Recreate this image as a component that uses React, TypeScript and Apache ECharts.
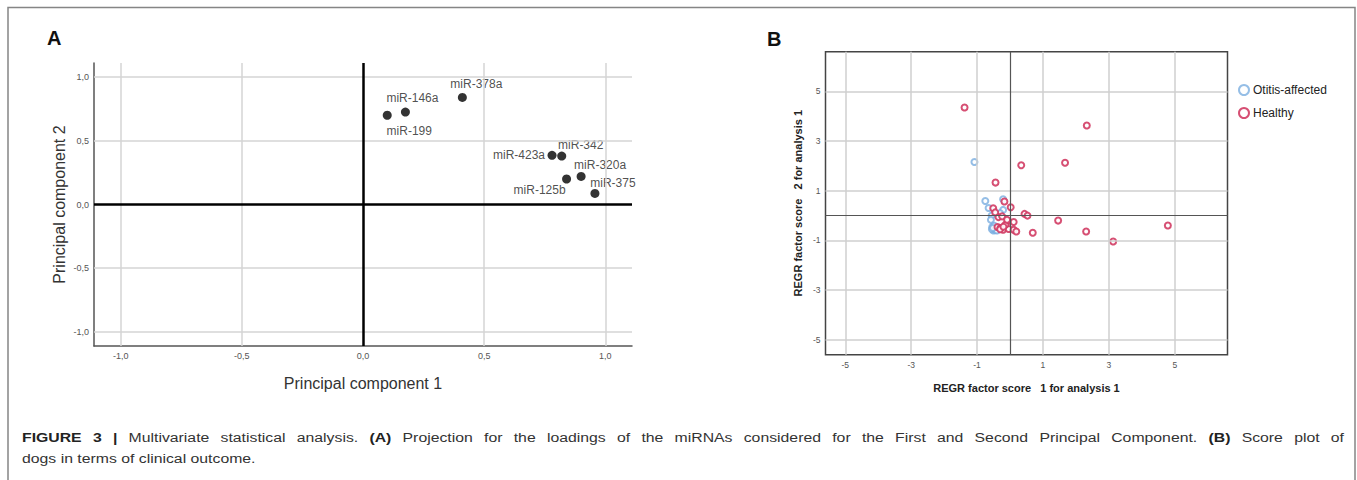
import React, { useEffect, useRef } from "react";
import * as echarts from "echarts";

// ---------- Panel A: PCA loadings ----------
const miRNAs = ["miR-199", "miR-146a", "miR-378a", "miR-423a", "miR-342", "miR-320a", "miR-125b", "miR-375"];
const pc1Loadings = [0.10, 0.175, 0.41, 0.78, 0.82, 0.90, 0.84, 0.957];
const pc2Loadings = [0.70, 0.725, 0.84, 0.386, 0.38, 0.22, 0.20, 0.087];
const aTickValues = [-1, -0.5, 0, 0.5, 1];
const aGridValues = [-1, -0.5, 0.5, 1];

// ---------- Panel B: factor scores ----------
const otitisX = [-1.08, -0.75, -0.21, -0.65, -0.21, -0.56, -0.58, -0.54, -0.50, -0.55, -0.45, -0.48, -0.40, -0.52, -0.30];
const otitisY = [2.16, 0.59, 0.66, 0.31, 0.23, 0.00, -0.17, -0.46, -0.60, -0.55, -0.57, -0.41, -0.60, -0.50, 0.10];
const healthyX = [-1.38, 2.33, 0.34, 1.67, -0.44, -0.17, 0.02, -0.51, 0.44, 0.53, 1.46, -0.06, 0.11, -0.35, -0.45, -0.24, -0.38, -0.21, -0.04, 0.11, 0.19, 0.69, 2.31, 3.13, 4.79, -0.29, -0.14, -0.09, -0.30, -0.20];
const healthyY = [4.35, 3.63, 2.03, 2.13, 1.33, 0.57, 0.34, 0.30, 0.07, 0.00, -0.20, -0.22, -0.26, -0.06, 0.13, -0.03, -0.46, -0.57, -0.54, -0.57, -0.64, -0.69, -0.64, -1.04, -0.40, -0.50, -0.37, -0.17, -0.55, -0.45];
const bTickValues = [-5, -3, -1, 1, 3, 5];
const groupNames = ["Otitis-affected", "Healthy"];

// ---------- Caption ([text, bold]) ----------
const captionLine1: [string, boolean][] = [
  ["FIGURE 3 |", true],
  ["Multivariate statistical analysis.", false],
  ["(A)", true],
  ["Projection for the loadings of the miRNAs considered for the First and Second Principal Component.", false],
  ["(B)", true],
  ["Score plot of", false],
];
const captionLine2: [string, boolean][] = [["dogs in terms of clinical outcome.", false]];

// label placement (offset of label centre from point, in px)
const labelOffsets: Record<string, [number, number]> = {
  "miR-199": [22, 16],
  "miR-146a": [7, -14],
  "miR-378a": [14, -13],
  "miR-423a": [-33, 0],
  "miR-342": [19, -11],
  "miR-320a": [19, -11],
  "miR-125b": [-27, 11],
  "miR-375": [18, -10],
};

const FONT = "'Liberation Sans', Arial, Helvetica, sans-serif";
const CAP_SIZE = 13.5;
const CAP_SCALE = 1.17;

function buildCaptionLine(segments: [string, boolean][], x0: number, y: number, justifyWidth: number | null) {
  const ctx = document.createElement("canvas").getContext("2d")!;
  const words: { t: string; b: boolean; w: number }[] = [];
  segments.forEach(([txt, b]) => {
    txt.split(" ").forEach((t) => {
      ctx.font = `${b ? "bold " : ""}${CAP_SIZE}px 'Liberation Sans', Arial, sans-serif`;
      words.push({ t, b, w: ctx.measureText(t).width });
    });
  });
  ctx.font = `${CAP_SIZE}px 'Liberation Sans', Arial, sans-serif`;
  const space = ctx.measureText(" ").width;
  const total = words.reduce((s, w) => s + w.w, 0);
  const gaps = words.length - 1;
  const gap = justifyWidth != null && gaps > 0 ? Math.max(space, (justifyWidth / CAP_SCALE - total) / gaps) : space;
  let cx = 0;
  const children = words.map((w) => {
    const el = {
      type: "text",
      x: cx,
      y: 0,
      style: {
        text: w.t,
        fontSize: CAP_SIZE,
        fontWeight: w.b ? "bold" : "normal",
        fontFamily: FONT,
        fill: w.b ? "#222" : "#333",
        verticalAlign: "middle",
      },
    };
    cx += w.w + gap;
    return el;
  });
  return { type: "group", x: x0, y, scaleX: CAP_SCALE, children };
}

export default function App() {
  const ref = useRef<HTMLDivElement>(null);

  useEffect(() => {
    if (!ref.current) return;
    const chart = echarts.init(ref.current, undefined, { renderer: "svg" });

    const fmtA = (v: number) => v.toFixed(1).replace(".", ",");

    const pointsA = miRNAs.map((n, i) => ({
      name: n,
      value: [pc1Loadings[i], pc2Loadings[i]],
      label: { offset: labelOffsets[n] },
    }));

    const gridLineA = { color: "#d4d4d4", width: 1.5, type: "solid" };
    const zeroLineA = { color: "#000", width: 2.5, type: "solid" };
    const gridLineB = { color: "#cfcfcf", width: 1.5, type: "solid" };
    const zeroLineB = { color: "#555", width: 1.2, type: "solid" };

    const option: any = {
      animation: false,
      textStyle: { fontFamily: FONT },
      grid: [
        { left: 94, top: 63, width: 538, height: 283 },
        {
          left: 825.5,
          top: 51.7,
          width: 402,
          height: 303,
          show: true,
          borderColor: "#444",
          borderWidth: 1.5,
          backgroundColor: "transparent",
        },
      ],
      xAxis: [
        {
          gridIndex: 0,
          type: "value",
          min: -1.11,
          max: 1.11,
          splitLine: { show: false },
          axisTick: { show: false },
          axisLine: { show: true, onZero: false, lineStyle: { color: "#555", width: 1.5 } },
          axisLabel: { customValues: aTickValues, formatter: fmtA, fontSize: 9, color: "#555", margin: 5 },
          name: "Principal component 1",
          nameLocation: "middle",
          nameGap: 29,
          nameTextStyle: { fontSize: 16, color: "#333", fontFamily: FONT },
        },
        {
          gridIndex: 1,
          type: "value",
          min: -5.6,
          max: 6.6,
          splitLine: { show: false },
          axisTick: { show: false },
          axisLine: { show: false, onZero: false },
          axisLabel: { customValues: bTickValues, fontSize: 8.5, color: "#555", margin: 6 },
          name: "REGR factor score   1 for analysis 1",
          nameLocation: "middle",
          nameGap: 28,
          nameTextStyle: { fontSize: 11, fontWeight: "bold", color: "#222", fontFamily: FONT },
        },
      ],
      yAxis: [
        {
          gridIndex: 0,
          type: "value",
          min: -1.11,
          max: 1.11,
          splitLine: { show: false },
          axisTick: { show: false },
          axisLine: { show: true, onZero: false, lineStyle: { color: "#555", width: 1.5 } },
          axisLabel: { customValues: aTickValues, formatter: fmtA, fontSize: 9, color: "#555", margin: 5 },
          name: "Principal component 2",
          nameLocation: "middle",
          nameGap: 27,
          nameTextStyle: { fontSize: 16, color: "#333", fontFamily: FONT },
        },
        {
          gridIndex: 1,
          type: "value",
          min: -5.6,
          max: 6.6,
          splitLine: { show: false },
          axisTick: { show: false },
          axisLine: { show: false, onZero: false },
          axisLabel: { customValues: bTickValues, fontSize: 8.5, color: "#555", margin: 5 },
          name: "REGR factor score   2 for analysis 1",
          nameLocation: "middle",
          nameGap: 22,
          nameTextStyle: { fontSize: 11, fontWeight: "bold", color: "#222", fontFamily: FONT },
        },
      ],
      legend: {
        orient: "vertical",
        left: 1233,
        top: 79,
        itemWidth: 10,
        itemHeight: 10,
        itemGap: 11,
        data: groupNames,
        textStyle: { fontSize: 12, color: "#222", fontFamily: FONT, padding: [0, 0, 0, -1] },
      },
      series: [
        {
          type: "scatter",
          xAxisIndex: 0,
          yAxisIndex: 0,
          z: 1,
          silent: true,
          symbolSize: 0,
          data: pointsA.map((p) => p.value),
          markLine: {
            silent: true,
            symbol: ["none", "none"],
            label: { show: false },
            data: [
              ...aGridValues.map((v) => ({ xAxis: v, lineStyle: gridLineA })),
              ...aGridValues.map((v) => ({ yAxis: v, lineStyle: gridLineA })),
              { xAxis: 0, lineStyle: zeroLineA },
              { yAxis: 0, lineStyle: zeroLineA },
            ],
          },
        },
        {
          type: "scatter",
          xAxisIndex: 0,
          yAxisIndex: 0,
          z: 3,
          symbolSize: 9,
          itemStyle: { color: "#000" },
          label: {
            show: true,
            position: "inside",
            formatter: "{b}",
            fontSize: 12,
            color: "#222",
            fontFamily: FONT,
          },
          data: pointsA,
        },
        {
          type: "scatter",
          xAxisIndex: 1,
          yAxisIndex: 1,
          z: 1,
          silent: true,
          symbolSize: 0,
          data: [[0, 0]],
          markLine: {
            silent: true,
            symbol: ["none", "none"],
            label: { show: false },
            data: [
              ...bTickValues.map((v) => ({ xAxis: v, lineStyle: gridLineB })),
              ...bTickValues.map((v) => ({ yAxis: v, lineStyle: gridLineB })),
              { xAxis: 0, lineStyle: zeroLineB },
              { yAxis: 0, lineStyle: zeroLineB },
            ],
          },
        },
        {
          name: groupNames[0],
          type: "scatter",
          xAxisIndex: 1,
          yAxisIndex: 1,
          z: 3,
          symbol: "emptyCircle",
          symbolSize: 6,
          itemStyle: { color: "#7aaee0", borderWidth: 1.3 },
          data: otitisX.map((x, i) => [x, otitisY[i]]),
        },
        {
          name: groupNames[1],
          type: "scatter",
          xAxisIndex: 1,
          yAxisIndex: 1,
          z: 4,
          symbol: "emptyCircle",
          symbolSize: 6,
          itemStyle: { color: "#d23c64", borderWidth: 1.3, opacity: 0.9 },
          data: healthyX.map((x, i) => [x, healthyY[i]]),
        },
      ],
      graphic: [
        {
          type: "polyline",
          silent: true,
          shape: { points: [[8, 480], [8, 7.5], [1355, 7.5], [1355, 480]] },
          style: { stroke: "#858585", lineWidth: 1.5, fill: "none" },
        },
        {
          type: "text",
          left: 47,
          top: 28,
          style: { text: "A", fontSize: 20, fontWeight: "bold", fill: "#111", fontFamily: FONT },
        },
        {
          type: "text",
          left: 767,
          top: 29,
          style: { text: "B", fontSize: 20, fontWeight: "bold", fill: "#111", fontFamily: FONT },
        },
        buildCaptionLine(captionLine1, 22, 437, 1322),
        buildCaptionLine(captionLine2, 22, 458, null),
      ],
    };

    chart.setOption(option);
    return () => chart.dispose();
  }, []);

  return (
    <div style={{ position: "absolute", left: 0, top: 0, width: 1357, height: 480, background: "#fff" }}>
      <div ref={ref} style={{ width: 1357, height: 480 }} />
    </div>
  );
}
